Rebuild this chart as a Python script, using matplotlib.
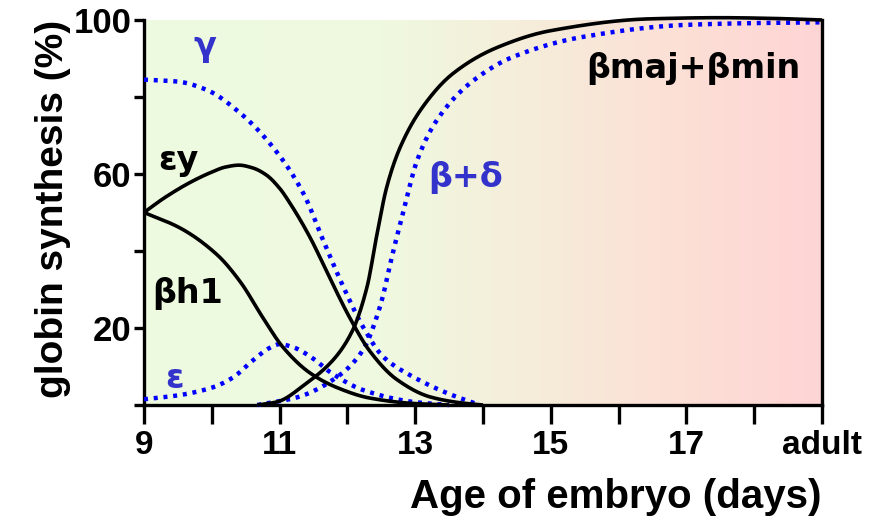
import numpy as np
import matplotlib
matplotlib.use("Agg")
import matplotlib.pyplot as plt
from matplotlib.colors import LinearSegmentedColormap

# values (day, % synthesis); 19 = adult
gamma_x = [9.0, 9.5, 9.93, 10.42, 10.9, 11.35, 11.64, 11.94, 12.23, 12.53, 12.97, 13.47, 13.95]
gamma_y = [84.5, 84.0, 81.8, 75.8, 67.0, 55.0, 42.9, 30.7, 20.3, 12.5, 7.3, 3.1, 0.0]

ey_x = [9.0, 9.3, 9.7, 10.0, 10.2, 10.4, 10.6, 10.8, 11.0, 11.15, 11.45, 11.74, 12.04,
        12.33, 12.73, 13.22, 13.7, 14.0]
ey_y = [50.0, 53.8, 58.0, 60.5, 61.8, 62.3, 61.6, 59.8, 56.3, 52.5, 43.5, 33.0, 22.5,
        14.0, 6.6, 2.1, 0.5, 0.0]

bh1_x = [9.0, 9.53, 10.08, 10.42, 10.76, 11.05, 11.45, 11.85, 12.33, 12.97, 13.5]
bh1_y = [50.0, 46.0, 39.0, 32.0, 22.5, 15.0, 8.3, 4.5, 1.8, 0.4, 0.0]

eps_x = [9.0, 9.5, 10.0, 10.3, 10.6, 10.85, 11.0, 11.2, 11.5, 11.74, 12.23, 12.97, 13.5]
eps_y = [1.5, 2.5, 4.5, 7.0, 11.5, 14.8, 15.8, 15.0, 12.0, 8.6, 3.9, 0.8, 0.0]

bmaj_x = [10.67, 10.96, 11.4, 11.79, 12.08, 12.29, 12.44, 12.58, 12.78, 13.11, 13.55, 14.2,
          14.99, 16.46, 17.5, 18.3, 19.0]
bmaj_y = [0.0, 0.8, 5.7, 11.7, 19.5, 30.7, 44.7, 56.6, 67.0, 77.4, 86.0, 92.8,
          97.2, 100.3, 100.6, 100.4, 100.0]

bd_x = [10.67, 11.26, 11.85, 12.23, 12.48, 12.67, 12.82, 13.03, 13.32, 13.81, 14.44,
        15.47, 16.95, 18.0, 19.0]
bd_y = [0.0, 2.0, 7.3, 14.3, 25.5, 39.5, 49.9, 63.6, 74.0, 83.6, 90.4,
        95.6, 98.7, 99.2, 99.4]

tick_pos = [9, 11, 13, 15, 17, 19]
tick_lab = ["9", "11", "13", "15", "17", "adult"]


def smooth(xs, ys, n=400):
    # monotone cubic (pchip) through the read points, only to draw a smooth line
    x = np.asarray(xs, float)
    y = np.asarray(ys, float)
    h = np.diff(x)
    d = np.diff(y) / h
    m = np.zeros_like(y)
    for k in range(1, len(x) - 1):
        if d[k - 1] * d[k] > 0:
            w1 = 2 * h[k] + h[k - 1]
            w2 = h[k] + 2 * h[k - 1]
            m[k] = (w1 + w2) / (w1 / d[k - 1] + w2 / d[k])
    m[0] = d[0]
    m[-1] = d[-1]
    xx = np.linspace(x[0], x[-1], n)
    idx = np.clip(np.searchsorted(x, xx) - 1, 0, len(x) - 2)
    t = (xx - x[idx]) / h[idx]
    h00 = 2 * t**3 - 3 * t**2 + 1
    h10 = t**3 - 2 * t**2 + t
    h01 = -2 * t**3 + 3 * t**2
    h11 = t**3 - t**2
    yy = h00 * y[idx] + h10 * h[idx] * m[idx] + h01 * y[idx + 1] + h11 * h[idx] * m[idx + 1]
    return xx, np.clip(yy, 0, None)


fig = plt.figure(figsize=(8.82, 5.27), dpi=100)
ax = fig.add_axes([144 / 882, 122 / 527, 678 / 882, 385 / 527])

# background gradient green -> beige -> pink
cmap = LinearSegmentedColormap.from_list(
    "bg", [(0.0, "#eefbe0"), (0.35, "#eff9df"), (0.55, "#f5eeda"),
           (0.78, "#fce0d6"), (1.0, "#ffd5d5")])
ax.imshow(np.linspace(0, 1, 400).reshape(1, -1), cmap=cmap, aspect="auto",
          extent=[9, 19, 0, 100], zorder=0)

blue_dot = dict(color="#0000ff", lw=3.2, linestyle=(0, (0.9, 1.3)), clip_on=False, zorder=3)
black = dict(color="black", lw=2.6, solid_capstyle="butt", clip_on=False, zorder=4)

ax.plot(*smooth(gamma_x, gamma_y), **blue_dot)
ax.plot(*smooth(eps_x, eps_y), **blue_dot)
ax.plot(*smooth(bd_x, bd_y), **blue_dot)
ax.plot(*smooth(ey_x, ey_y), **black)
ax.plot(*smooth(bh1_x, bh1_y), **black)
ax.plot(*smooth(bmaj_x, bmaj_y), **black)

lab = dict(fontsize=24, fontweight="bold", family="DejaVu Sans", ha="center", va="center")
ax.text(9.9, 93, "γ", color="#3333cc", **lab)
ax.text(9.45, 7, "ε", color="#3333cc", **lab)
ax.text(13.75, 59, "β+δ", color="#3333cc", **lab)
ax.text(9.5, 63.5, "εy", color="black", **lab)
ax.text(9.65, 29, "βh1", color="black", **lab)
ax.text(17.1, 87.5, "βmaj+βmin", color="black", **lab)

ax.set_xlim(9, 19)
ax.set_ylim(0, 100)
ax.spines["top"].set_visible(False)
for s in ("left", "bottom", "right"):
    ax.spines[s].set_linewidth(2.4)

ax.set_xticks(range(9, 20))
ax.set_xticklabels([tick_lab[tick_pos.index(v)] if v in tick_pos else "" for v in range(9, 20)],
                   family="Liberation Sans", fontweight="bold", fontsize=24)
ax.tick_params(axis="x", length=14, width=2.4, pad=4)
ax.set_yticks([0, 20, 40, 60, 80, 100])
ax.set_yticklabels(["", "20", "", "60", "", "100"], family="Liberation Sans",
                   fontweight="bold", fontsize=25)
ax.tick_params(axis="y", length=7, width=2.4, pad=2)

ax.set_xlabel("Age of embryo (days)", family="Liberation Sans",
              fontweight="bold", fontsize=29, loc="right", labelpad=12)
ax.set_ylabel("globin synthesis (%)", family="Liberation Sans", fontweight="bold",
              fontsize=28, loc="top", labelpad=2)

fig.savefig("out.png", dpi=100)
